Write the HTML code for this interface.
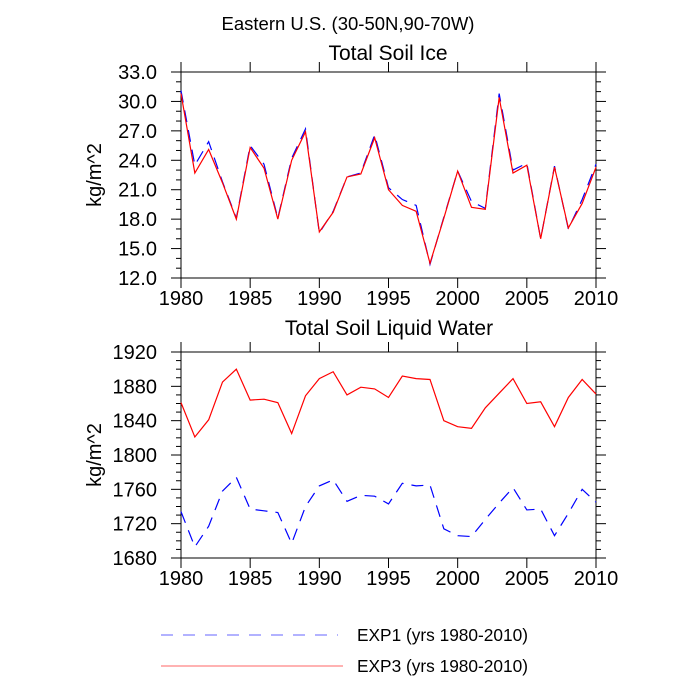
<!DOCTYPE html>
<html><head><meta charset="utf-8"><style>
html,body{margin:0;padding:0;background:#fff;}
svg{display:block;font-family:"Liberation Sans",Arial,sans-serif;}
</style></head><body>
<svg id="chart" width="700" height="700" viewBox="0 0 700 700">
<text x="348" y="30" font-size="18.5" text-anchor="middle">Eastern U.S. (30-50N,90-70W)</text>
<g id="legend">
<line x1="161" y1="635" x2="338" y2="635" stroke="#6666ff" stroke-width="1" stroke-dasharray="12,10"/>
<text x="357" y="641" font-size="17.3">EXP1 (yrs 1980-2010)</text>
<line x1="161" y1="666" x2="343" y2="666" stroke="#ff6666" stroke-width="1"/>
<text x="357" y="672" font-size="17.3">EXP3 (yrs 1980-2010)</text>
</g>
</svg>
<script>
const years = [1980,1981,1982,1983,1984,1985,1986,1987,1988,1989,1990,1991,1992,1993,1994,1995,1996,1997,1998,1999,2000,2001,2002,2003,2004,2005,2006,2007,2008,2009,2010];
const iceExp1 = [31.1,23.5,25.9,21.8,18.1,25.5,23.6,18.1,24.2,27.2,16.6,18.8,22.3,22.7,26.6,21.2,20.0,19.4,13.4,18.2,22.9,19.8,19.1,30.8,23.0,23.7,16.0,23.4,17.0,20.0,23.6];
const iceExp3 = [30.8,22.7,25.1,21.7,18.0,25.3,23.2,18.0,24.0,26.9,16.7,18.7,22.3,22.6,26.3,21.0,19.4,18.8,13.5,18.1,22.9,19.2,19.0,30.4,22.7,23.5,16.0,23.3,17.1,19.6,23.3];
const liqExp1 = [1734,1693,1717,1758,1774,1737,1735,1733,1697,1740,1764,1771,1746,1753,1752,1743,1767,1764,1765,1714,1706,1705,1725,1744,1762,1736,1737,1706,1732,1760,1745];
const liqExp3 = [1861,1821,1841,1885,1900,1864,1865,1861,1825,1869,1889,1897,1870,1879,1877,1867,1892,1889,1888,1840,1833,1831,1855,1872,1889,1860,1862,1833,1867,1888,1871];
const iceTicks = ["12.0","15.0","18.0","21.0","24.0","27.0","30.0","33.0"];
const liqTicks = ["1680","1720","1760","1800","1840","1880","1920"];
const xTicks = [1980,1985,1990,1995,2000,2005,2010];

const NS="http://www.w3.org/2000/svg";
const svg=document.getElementById('chart');
function mk(tag,attrs,parent){const e=document.createElementNS(NS,tag);for(const k in attrs)e.setAttribute(k,attrs[k]);(parent||svg).appendChild(e);return e;}

function panel(cfg){
  const g=mk('g',{});
  
  
  const L=181,R=596,T=cfg.top,B=cfg.bottom;
  const xs=v=>L+(v-1980)/(2010-1980)*(R-L);
  const ys=v=>B-(v-cfg.ymin)/(cfg.ymax-cfg.ymin)*(B-T);
  const fr=mk('rect',{x:L,y:T,width:R-L,height:B-T,fill:'none',stroke:'#000','stroke-width':1},g);
  
  
  for(let v=cfg.ymin;v<=cfg.ymax+1e-9;v+=cfg.minor){
    const y=ys(v);
    const isMaj=Math.abs(((v-cfg.ymin)/cfg.major)-Math.round((v-cfg.ymin)/cfg.major))<1e-6;
    const len=isMaj?10:5;
    mk('line',{x1:L-len,y1:y,x2:L,y2:y,stroke:'#000'},g);
    mk('line',{x1:R,y1:y,x2:R+len,y2:y,stroke:'#000'},g);
  }
  cfg.ticks.forEach(t=>{
    const tx=mk('text',{x:157,y:ys(parseFloat(t))+7,'font-size':20,'text-anchor':'end'},g);
    tx.textContent=t;
    
    
  });
  xTicks.forEach(t=>{
    const x=xs(t);
    mk('line',{x1:x,y1:T-10,x2:x,y2:T,stroke:'#000'},g);
    mk('line',{x1:x,y1:B,x2:x,y2:B+10,stroke:'#000'},g);
    const tx=mk('text',{x:x,y:B+27,'font-size':20,'text-anchor':'middle'},g);
    tx.textContent=t;
    
    
  });
  const yt=mk('text',{x:0,y:0,'font-size':20,'text-anchor':'middle',transform:`translate(101,${(T+B)/2}) rotate(-90)`},g);
  yt.textContent='kg/m^2';
  
  
  const ti=mk('text',{x:cfg.tx,y:T-cfg.toff,'font-size':21,'text-anchor':'middle'},g);
  ti.textContent=cfg.title;
  
  
  const p1=mk('polyline',{points:years.map((y,i)=>xs(y)+','+ys(cfg.s1[i])).join(' '),fill:'none',stroke:'#0000ff','stroke-width':1.2,'stroke-dasharray':'12,8'},g);
  
  
  const p3=mk('polyline',{points:years.map((y,i)=>xs(y)+','+ys(cfg.s3[i])).join(' '),fill:'none',stroke:'#ff0000','stroke-width':1.2},g);
  
  
}
panel({name:'ice-panel',top:72,bottom:278,ymin:12,ymax:33,major:3,minor:1,ticks:iceTicks,s1:iceExp1,s3:iceExp3,title:'Total Soil Ice',tx:388,toff:12});
panel({name:'liquid-panel',top:352,bottom:558,ymin:1680,ymax:1920,major:40,minor:10,ticks:liqTicks,s1:liqExp1,s3:liqExp3,title:'Total Soil Liquid Water',tx:389,toff:17});
</script>
</body></html>
